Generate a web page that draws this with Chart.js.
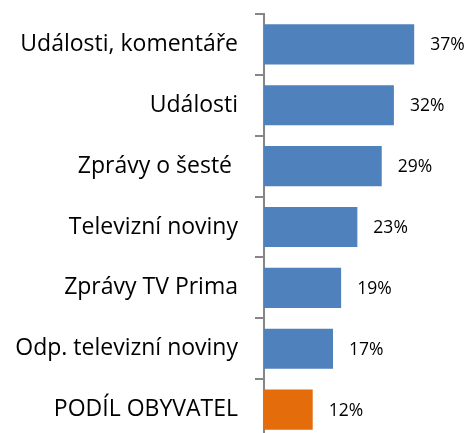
<!DOCTYPE html>
<html>
<head>
<meta charset="utf-8">
<script src="https://cdn.jsdelivr.net/npm/chart.js@4"></script>
<style>
html,body{margin:0;padding:0;overflow:hidden;background:#fff;}
canvas{display:block;}
</style>
</head>
<body>
<canvas id="c" width="469" height="442"></canvas>
<script>
const categories = ["Události, komentáře","Události","Zprávy o šesté ","Televizní noviny","Zprávy TV Prima","Odp. televizní noviny","PODÍL OBYVATEL"];
const values = [37, 32, 29, 23, 19, 17, 12];
const barColors = ["#4F81BD","#4F81BD","#4F81BD","#4F81BD","#4F81BD","#4F81BD","#E46C0A"];

const valueLabels = {
  id: 'valueLabels',
  afterDatasetsDraw(chart) {
    const ctx = chart.ctx;
    const meta = chart.getDatasetMeta(0);
    ctx.save();
    ctx.font = '17.5px "Open Sans"';
    ctx.fillStyle = '#000';
    ctx.textAlign = 'left';
    ctx.textBaseline = 'middle';
    meta.data.forEach((bar, i) => {
      ctx.fillText(values[i] + '%', bar.x + 16, bar.y + 1);
    });
    ctx.restore();
  }
};

new Chart(document.getElementById('c'), {
  type: 'bar',
  data: {
    labels: categories,
    datasets: [{
      data: values,
      backgroundColor: barColors,
      borderWidth: 0,
      barPercentage: 0.66,
      categoryPercentage: 1.0
    }]
  },
  options: {
    indexAxis: 'y',
    responsive: false,
    animation: false,
    layout: { padding: { top: 14, bottom: 2, left: 0, right: 0 } },
    plugins: { legend: { display: false }, tooltip: { enabled: false } },
    scales: {
      x: { display: false, min: 0, max: 50.5 },
      y: {
        offset: true,
        afterFit(scale) { scale.width = 264; scale.paddingTop = 0; scale.paddingBottom = 0; },
        grid: { offset: true, drawOnChartArea: false, tickLength: 9, color: '#868686', lineWidth: 2 },
        border: { display: true, color: '#868686', width: 2 },
        ticks: { color: '#000', font: { family: 'Open Sans', size: 23 }, padding: 17, autoSkip: false }
      }
    }
  },
  plugins: [valueLabels]
});
</script>
</body>
</html>
